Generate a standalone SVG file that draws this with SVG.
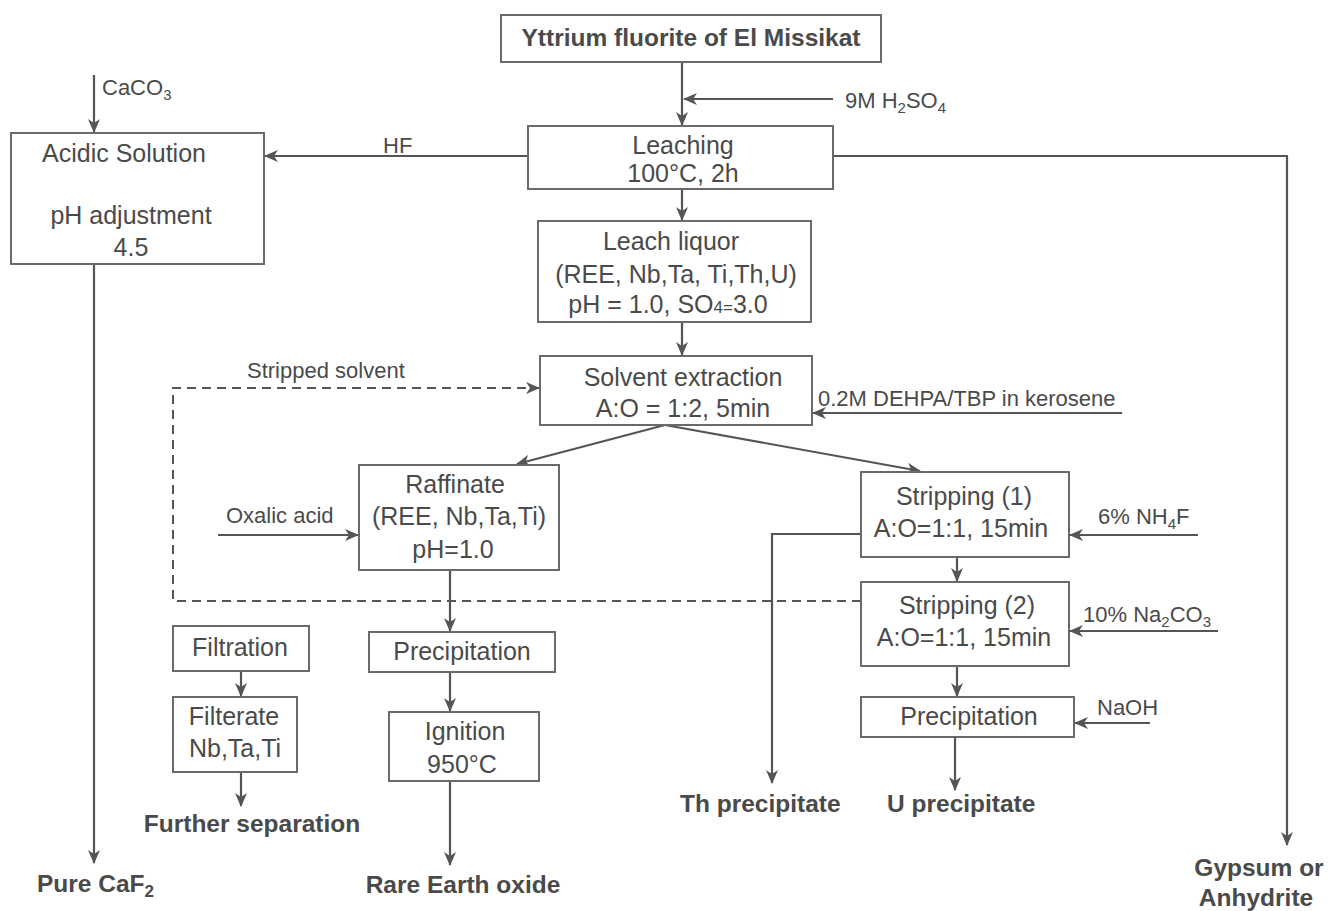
<svg xmlns="http://www.w3.org/2000/svg" width="1331" height="911" viewBox="0 0 1331 911">
<style>
.box{fill:#fff;stroke:#6a6a6a;stroke-width:2}
.t{font-family:"Liberation Sans",Arial,sans-serif;font-size:25px;fill:#4a4a4a;text-anchor:middle}
.l{font-family:"Liberation Sans",Arial,sans-serif;font-size:22px;fill:#4a4a4a}
.b{font-family:"Liberation Sans",Arial,sans-serif;font-size:24.5px;font-weight:bold;fill:#4a4a4a}
.c{fill:none;stroke:#555;stroke-width:2.2}
.d{fill:none;stroke:#555;stroke-width:2;stroke-dasharray:9,6}
</style>
<defs>
<marker id="ah" markerUnits="userSpaceOnUse" markerWidth="14" markerHeight="12" refX="13" refY="6" orient="auto">
<path d="M0,0 L14,6 L0,12 L4,6 z" fill="#555"/>
</marker>
</defs>
<rect width="1331" height="911" fill="#fff"/>

<g id="connectors">
<path class="c" d="M682,62 V125" marker-end="url(#ah)"/>
<path class="c" d="M833,99 H684" marker-end="url(#ah)"/>
<path class="c" d="M528,156 H265" marker-end="url(#ah)"/>
<path class="c" d="M94,75 V132" marker-end="url(#ah)"/>
<path class="c" d="M94,264 V863" marker-end="url(#ah)"/>
<path class="c" d="M833,156 H1287 V845" marker-end="url(#ah)"/>
<path class="c" d="M682,189 V220" marker-end="url(#ah)"/>
<path class="c" d="M682,322 V355" marker-end="url(#ah)"/>
<path class="c" d="M1122,413 H813" marker-end="url(#ah)"/>
<path class="c" d="M665,425 L517,464" marker-end="url(#ah)"/>
<path class="c" d="M665,425 L920,471" marker-end="url(#ah)"/>
<path class="d" d="M861,601 H173 V388 H539" marker-end="url(#ah)"/>
<path class="c" d="M218,535 H358" marker-end="url(#ah)"/>
<path class="c" d="M450,570 V631" marker-end="url(#ah)"/>
<path class="c" d="M450,672 V711" marker-end="url(#ah)"/>
<path class="c" d="M450,781 V865" marker-end="url(#ah)"/>
<path class="c" d="M241,671 V696" marker-end="url(#ah)"/>
<path class="c" d="M241,772 V806" marker-end="url(#ah)"/>
<path class="c" d="M861,534 H772 V783" marker-end="url(#ah)"/>
<path class="c" d="M1198,535 H1070" marker-end="url(#ah)"/>
<path class="c" d="M957,557 V581" marker-end="url(#ah)"/>
<path class="c" d="M1218,631 H1070" marker-end="url(#ah)"/>
<path class="c" d="M957,666 V696" marker-end="url(#ah)"/>
<path class="c" d="M1150,723 H1075" marker-end="url(#ah)"/>
<path class="c" d="M955,737 V790" marker-end="url(#ah)"/>
</g>

<g id="labels">
<text class="l" x="845" y="108">9M H<tspan font-size="15" dy="5">2</tspan><tspan dy="-5">SO</tspan><tspan font-size="15" dy="5">4</tspan></text>
<text class="l" x="102" y="95">CaCO<tspan font-size="15" dy="5">3</tspan></text>
<text class="l" x="383" y="153">HF</text>
<text class="l" x="247" y="378">Stripped solvent</text>
<text class="l" x="818" y="406">0.2M DEHPA/TBP in kerosene</text>
<text class="l" x="226" y="523">Oxalic acid</text>
<text class="l" x="1098" y="524">6% NH<tspan font-size="15" dy="5">4</tspan><tspan dy="-5">F</tspan></text>
<text class="l" x="1083" y="622">10% Na<tspan font-size="15" dy="5">2</tspan><tspan dy="-5">CO</tspan><tspan font-size="15" dy="5">3</tspan></text>
<text class="l" x="1097" y="715">NaOH</text>
</g>

<g id="n-title">
<rect class="box" x="501" y="15" width="380" height="47"/>
<text class="b" x="691" y="46" text-anchor="middle" font-size="25.5">Yttrium fluorite of El Missikat</text>
</g>
<g id="n-leaching">
<rect class="box" x="528" y="126" width="305" height="63"/>
<text class="t" x="683" y="154">Leaching</text>
<text class="t" x="683" y="182">100°C, 2h</text>
</g>
<g id="n-acidic">
<rect class="box" x="11" y="133" width="253" height="131"/>
<text class="t" x="124" y="162">Acidic Solution</text>
<text class="t" x="131" y="224">pH adjustment</text>
<text class="t" x="131" y="256">4.5</text>
</g>
<g id="n-leachliquor">
<rect class="box" x="538" y="221" width="273" height="101"/>
<text class="t" x="671" y="250">Leach liquor</text>
<text class="t" x="676" y="283">(REE, Nb,Ta, Ti,Th,U)</text>
<text class="t" x="668" y="313">pH = 1.0, SO<tspan font-size="17">4=</tspan>3.0</text>
</g>
<g id="n-sx">
<rect class="box" x="540" y="356" width="272" height="69"/>
<text class="t" x="683" y="386">Solvent extraction</text>
<text class="t" x="683" y="417">A:O = 1:2, 5min</text>
</g>
<g id="n-raffinate">
<rect class="box" x="359" y="465" width="200" height="105"/>
<text class="t" x="455" y="493">Raffinate</text>
<text class="t" x="459" y="525">(REE, Nb,Ta,Ti)</text>
<text class="t" x="453" y="558">pH=1.0</text>
</g>
<g id="n-strip1">
<rect class="box" x="861" y="472" width="208" height="85"/>
<text class="t" x="964" y="505">Stripping (1)</text>
<text class="t" x="961" y="537">A:O=1:1, 15min</text>
</g>
<g id="n-strip2">
<rect class="box" x="861" y="582" width="208" height="84"/>
<text class="t" x="967" y="614">Stripping (2)</text>
<text class="t" x="964" y="646">A:O=1:1, 15min</text>
</g>
<g id="n-precip-u">
<rect class="box" x="861" y="697" width="213" height="40"/>
<text class="t" x="969" y="725">Precipitation</text>
</g>
<g id="n-precip-ree">
<rect class="box" x="369" y="632" width="186" height="40"/>
<text class="t" x="462" y="660">Precipitation</text>
</g>
<g id="n-ignition">
<rect class="box" x="389" y="712" width="150" height="69"/>
<text class="t" x="465" y="740">Ignition</text>
<text class="t" x="462" y="773">950°C</text>
</g>
<g id="n-filtration">
<rect class="box" x="173" y="626" width="136" height="45"/>
<text class="t" x="240" y="656">Filtration</text>
</g>
<g id="n-filterate">
<rect class="box" x="173" y="697" width="124" height="75"/>
<text class="t" x="234" y="725">Filterate</text>
<text class="t" x="235" y="757">Nb,Ta,Ti</text>
</g>
<g id="n-further"><text class="b" x="252" y="832" text-anchor="middle">Further separation</text></g>
<g id="n-reo"><text class="b" x="463" y="893" text-anchor="middle">Rare Earth oxide</text></g>
<g id="n-caf2"><text class="b" x="37" y="892">Pure CaF<tspan font-size="17" dy="5">2</tspan></text></g>
<g id="n-th"><text class="b" x="680" y="812">Th precipitate</text></g>
<g id="n-u"><text class="b" x="887" y="812">U precipitate</text></g>
<g id="n-gypsum">
<text class="b" x="1259" y="876" text-anchor="middle">Gypsum or</text>
<text class="b" x="1256" y="906" text-anchor="middle">Anhydrite</text>
</g>
</svg>
